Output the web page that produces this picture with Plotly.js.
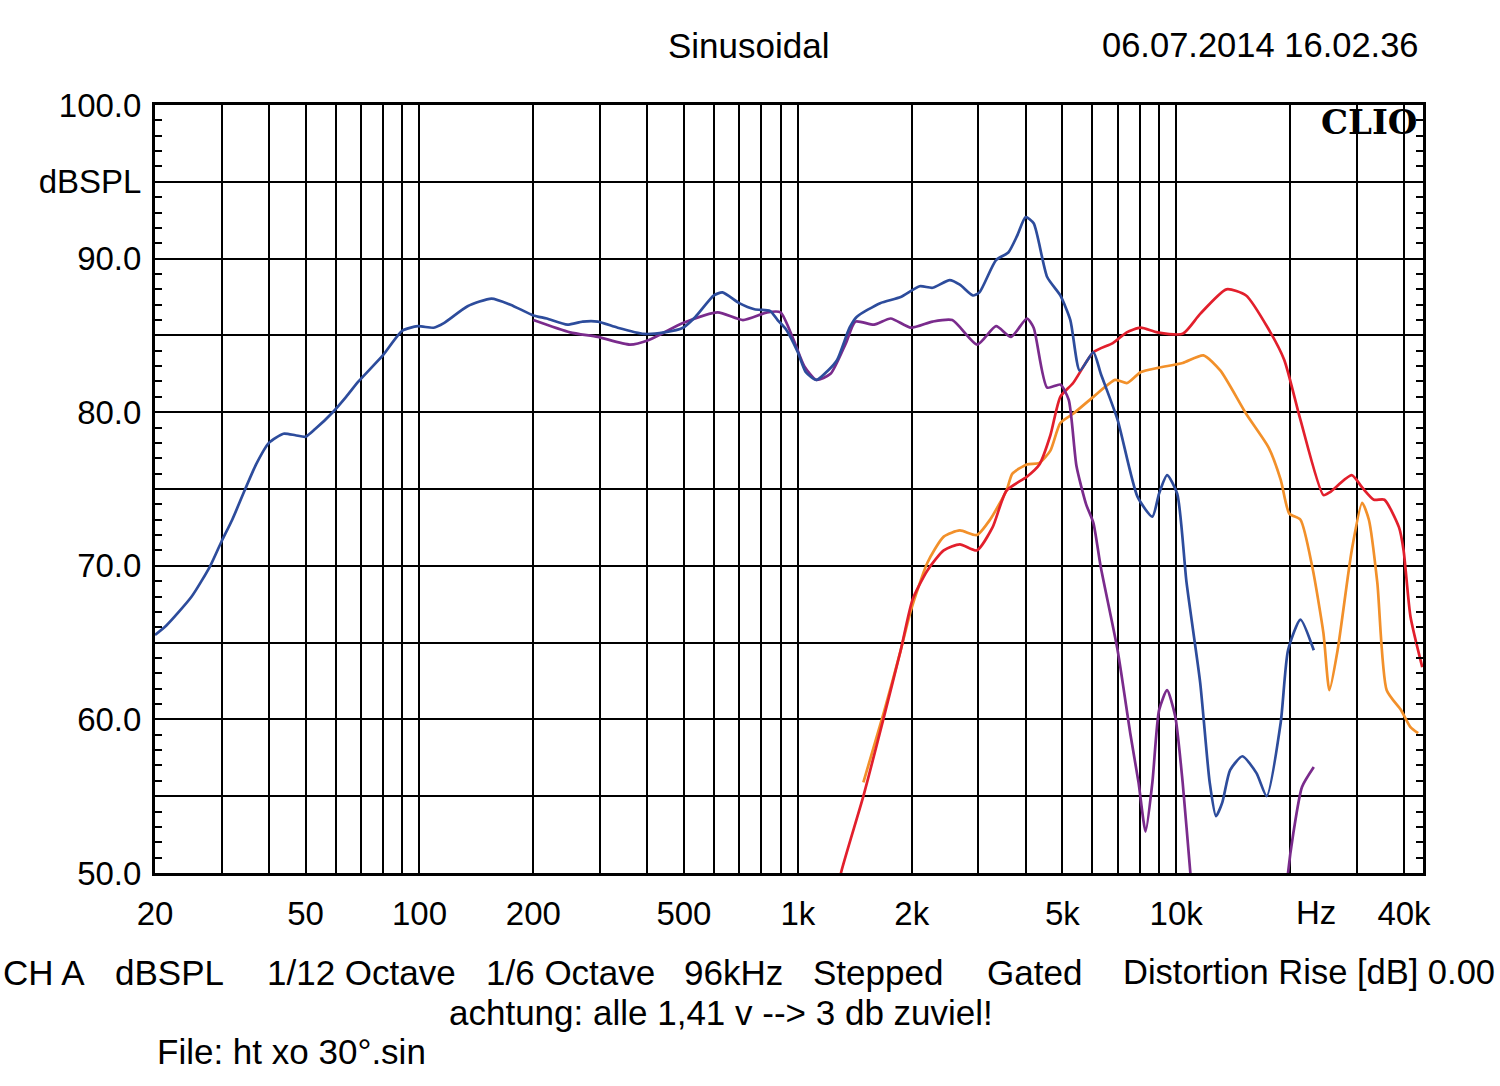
<!DOCTYPE html>
<html>
<head>
<meta charset="utf-8">
<script src="https://cdn.plot.ly/plotly-3.0.1.min.js"></script>
<style>
html,body{margin:0;padding:0;background:#fff;}
#chart{width:1500px;height:1086px;}
</style>
</head>
<body>
<div id="chart"></div>
<script>
// ---- data (frequency in Hz, level in dBSPL) ----
const blueFreq = [20,21.4,25,28,30,32,34.5,37,40,43.7,47,50,53,59,64,69,80,90,99,109,116,134,155,174,200,217,246,270,296,334,392,444,497,536,600,632,700,768,844,884,930,1000,1050,1120,1200,1270,1370,1430,1650,1870,2100,2270,2520,2680,2900,3020,3340,3600,3800,4000,4200,4560,4940,5250,5560,6040,6320,7000,7900,8650,9010,9460,10060,10650,11570,12260,12740,13240,13880,14960,16300,17340,18890,19750,21300,23100];
const blueDB   = [65.5,66.1,68.0,70.0,71.6,73.0,74.9,76.6,78.0,78.6,78.5,78.4,78.9,80.0,81.0,82.0,83.7,85.3,85.6,85.5,85.8,86.9,87.4,87.0,86.3,86.1,85.7,85.9,85.9,85.5,85.1,85.2,85.5,86.2,87.6,87.8,87.1,86.7,86.6,86.0,85.4,83.9,82.6,82.1,82.7,83.4,85.5,86.2,87.1,87.5,88.2,88.1,88.6,88.3,87.6,87.8,89.9,90.4,91.5,92.7,92.3,88.8,87.6,86.0,82.7,83.9,82.5,79.5,74.5,73.2,74.7,75.9,74.7,68.9,62.4,55.9,53.7,54.6,56.7,57.6,56.5,55.0,59.8,64.5,66.5,64.5];

const purpleFreq = [200,250,296,360,404,497,614,716,830,900,975,1040,1120,1220,1340,1420,1590,1760,1990,2270,2560,2980,3340,3660,4030,4200,4560,4940,5200,5450,5780,6040,6320,7000,7560,7950,8300,8650,9010,9460,9940,10400,10900,11300,null,19200,19750,20400,21500,23100];
const purpleDB   = [86.0,85.2,84.9,84.4,84.7,85.8,86.5,86.0,86.5,86.5,84.7,83.0,82.1,82.5,84.5,85.9,85.7,86.1,85.5,85.9,86.0,84.4,85.6,84.9,86.1,85.5,81.6,81.8,80.8,76.5,74.0,72.8,69.9,64.5,59.1,55.9,52.7,55.9,60.6,61.9,60.2,55.9,50.0,46.0,null,46.0,50.0,52.6,55.6,56.9];

const redFreq = [1200,1300,1490,1690,1870,2010,2200,2430,2680,2970,3270,3560,4030,4350,4650,4940,5340,6040,6800,7400,8050,8920,10400,11570,13580,15300,17550,19300,21300,24500,25500,29100,31000,33300,35500,38800,39900,41600,44700];
const redDB   = [46.0,50.0,55.0,60.2,64.5,67.8,69.7,71.0,71.4,71.0,72.5,74.9,75.8,76.6,78.5,81.0,81.9,83.9,84.5,85.2,85.5,85.2,85.1,86.4,88.0,87.6,85.4,83.4,79.5,74.6,74.8,75.9,75.1,74.3,74.3,72.5,71.0,66.7,63.4];

const orangeFreq = [1490,1690,1870,1990,2200,2430,2680,2970,3220,3560,3690,4030,4350,4650,4940,5340,6040,6900,7420,8050,9010,10400,11800,13090,15300,17550,18890,19900,21300,22900,24500,25400,26700,29100,31000,32300,34000,36000,39300,41600,43600];
const orangeDB   = [55.9,60.5,64.5,67.1,70.2,71.9,72.3,72.0,73.0,74.9,76.0,76.6,76.7,77.5,79.3,79.9,81.0,82.1,81.9,82.6,82.9,83.2,83.7,82.7,79.9,77.7,75.6,73.4,73.0,69.9,65.6,61.9,64.5,71.0,74.1,73.0,68.9,61.9,60.6,59.5,59.1];

const xGridVals = [20,30,40,50,60,70,80,90,100,200,300,400,500,600,700,800,900,1000,2000,3000,4000,5000,6000,7000,8000,9000,10000,20000,30000,40000];
const xLabelMap = {20:'20',50:'50',100:'100',200:'200',500:'500',1000:'1k',2000:'2k',5000:'5k',10000:'10k',40000:'40k'};
const yTickVals = [50,55,60,65,70,75,80,85,90,95,100];
const yTickText = ['50.0','','60.0','','70.0','','80.0','','90.0','dBSPL','100.0'];

// ---- layout helpers (pixel -> paper) ----
const W = 1500, H = 1086, L = 155, R = 1423, T = 105, B = 873;
const px = x => (x - L) / (R - L);
const py = y => (B - y) / (B - T);
const FONT = 'Liberation Sans, Arial, sans-serif';

function line(x, y, color) {
  return {x: x, y: y, type: 'scatter', mode: 'lines', connectgaps: false,
          line: {color: color, width: 2.7, shape: 'spline', smoothing: 0.6},
          hoverinfo: 'skip', showlegend: false};
}

const traces = [
  line(orangeFreq, orangeDB, '#f2902a'),
  line(redFreq, redDB, '#e21f2c'),
  line(purpleFreq, purpleDB, '#7a2b8c'),
  line(blueFreq, blueDB, '#2d4c9c')
];

function txt(text, x, y, xanchor, size, extra) {
  return Object.assign({text: text, xref: 'paper', yref: 'paper', x: px(x), y: py(y),
    xanchor: xanchor, yanchor: 'middle', showarrow: false,
    font: {family: FONT, size: size || 35, color: '#000'}}, extra || {});
}

const annotations = [
  txt('Sinusoidal', 749, 45, 'center', 35),
  txt('06.07.2014 16.02.36', 1421, 45, 'right', 34.5),
  txt('<b>CLIO</b>', 1420, 122, 'right', 34, {font: {family: 'DejaVu Serif, serif', size: 34, color: '#000'}}),
  txt('Hz', 1316, 912, 'center', 33),
  txt('CH A', 1, 972, 'left'),
  txt('dBSPL', 113, 972, 'left'),
  txt('1/12 Octave', 265, 972, 'left'),
  txt('1/6 Octave', 484, 972, 'left'),
  txt('96kHz', 682, 972, 'left'),
  txt('Stepped', 811, 972, 'left'),
  txt('Gated', 985, 972, 'left'),
  txt('Distortion Rise [dB] 0.00', 1497, 972, 'right', 34.5),
  txt('achtung: alle 1,41 v --> 3 db zuviel!', 447, 1012, 'left', 35),
  txt('File: ht xo 30°.sin', 155, 1051, 'left', 35)
];

const layout = {
  width: W, height: H,
  margin: {l: L, r: W - R, t: T, b: H - B, pad: 0},
  paper_bgcolor: '#ffffff', plot_bgcolor: '#ffffff',
  showlegend: false,
  font: {family: FONT, size: 33, color: '#000'},
  xaxis: {
    type: 'log', range: [Math.log10(20), Math.log10(44900)],
    tickmode: 'array', tickvals: xGridVals,
    ticktext: xGridVals.map(v => xLabelMap[v] || ''),
    ticks: '', showgrid: true, gridcolor: '#000', gridwidth: 2,
    showline: true, linecolor: '#000', linewidth: 3, mirror: true,
    zeroline: false, tickfont: {family: FONT, size: 33, color: '#000'},
    ticklabelstandoff: 9, fixedrange: true
  },
  yaxis: {
    range: [50, 100],
    tickmode: 'array', tickvals: yTickVals, ticktext: yTickText,
    ticks: 'inside', ticklen: 6, tickwidth: 2, tickcolor: '#000',
    minor: {dtick: 1, tick0: 50, ticks: 'inside', ticklen: 7, tickwidth: 2, tickcolor: '#000', showgrid: false},
    showgrid: true, gridcolor: '#000', gridwidth: 2,
    showline: true, linecolor: '#000', linewidth: 3, mirror: 'ticks',
    zeroline: false, tickfont: {family: FONT, size: 33, color: '#000'},
    ticklabelstandoff: 4, fixedrange: true
  },
  annotations: annotations
};

Plotly.newPlot('chart', traces, layout, {staticPlot: true, displayModeBar: false});
</script>
</body>
</html>
